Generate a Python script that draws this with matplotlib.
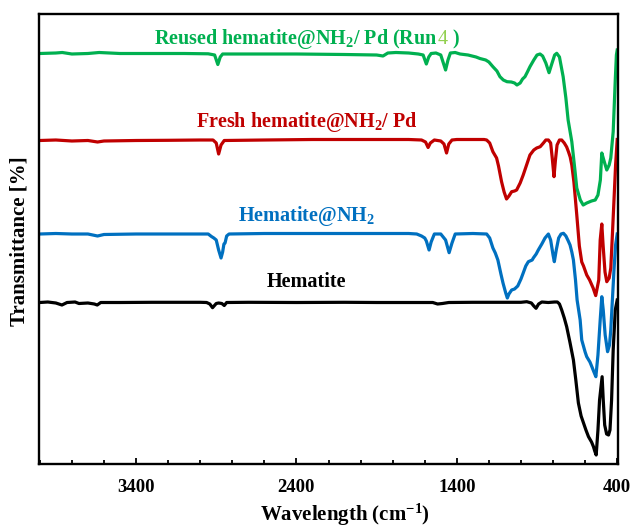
import numpy as np
import matplotlib
matplotlib.use("Agg")
import matplotlib.pyplot as plt
from matplotlib.ticker import MultipleLocator
from matplotlib.transforms import IdentityTransform

plt.rcParams["font.family"] = "Liberation Serif"
plt.rcParams["font.weight"] = "bold"
plt.rcParams["mathtext.fontset"] = "custom"
plt.rcParams["mathtext.rm"] = "Liberation Serif:bold"
plt.rcParams["mathtext.it"] = "Liberation Serif:bold"
plt.rcParams["mathtext.bf"] = "Liberation Serif:bold"

# spectra (wavenumber, transmittance in arbitrary offset units)
wn_green = [4000, 3900, 3860, 3800, 3700, 3630, 3500, 3300, 3100, 2950, 2910, 2890, 2875, 2860,
            2700, 2400, 2100, 1900, 1860, 1830, 1780, 1700, 1640, 1610, 1590, 1575, 1560, 1530,
            1500, 1470, 1455, 1440, 1410, 1380, 1330, 1280, 1256, 1220, 1200, 1175, 1150, 1131,
            1110, 1087, 1060, 1040, 1025, 1005, 990, 975, 960, 944, 920, 900, 881, 865, 845, 825,
            810, 790, 777, 760, 737, 720, 706, 683, 665, 652, 630, 612, 590, 560, 537, 520, 505,
            496, 480, 465, 450, 440, 425, 412, 405, 400]
t_green = [410.5, 411, 411.5, 410, 410.5, 411.5, 410.5, 410.5, 410.5, 410.2, 409, 399.5, 407, 410,
           410, 410, 409.5, 409, 408, 411, 411.5, 411, 410, 409, 400, 407, 410.5, 411,
           409, 394, 404, 411, 411.5, 410, 409, 407, 405.5, 404, 402, 397.3, 393, 387.3,
           384, 382.3, 382, 381, 379, 381, 385, 387.3, 392, 397.3, 404, 409, 410, 408, 401, 391.3,
           399, 409, 410.7, 407, 387.3, 366, 344, 322.3, 296, 276, 264, 259, 261, 263, 264, 269, 284,
           311, 302, 294, 299, 306, 332.3, 384, 409, 414]

wn_red = [4000, 3900, 3800, 3700, 3640, 3600, 3400, 3200, 3000, 2920, 2900, 2885, 2870, 2850,
          2600, 2300, 2000, 1700, 1620, 1595, 1579, 1565, 1540, 1500, 1480, 1464, 1450, 1430,
          1400, 1300, 1230, 1214, 1195, 1175, 1152, 1140, 1121, 1105, 1090, 1075, 1058, 1040,
          1027, 1005, 986, 965, 944, 920, 902, 880, 860, 845, 829, 815, 805, 794, 785, 775, 760,
          746, 730, 715, 704, 693, 683, 670, 652, 636, 621, 610, 590, 572, 550, 534, 515, 506,
          496, 488, 476, 465, 450, 440, 430, 420, 410, 400]
t_red = [323.5, 324, 323, 323.5, 322, 323, 323.5, 323.7, 324, 324, 321, 310, 319, 323.5,
         324, 324.5, 324.5, 324.5, 324, 322, 316.5, 321, 324, 323, 320, 311, 320, 324,
         324.5, 324.5, 324.5, 324, 321, 312.3, 306, 298, 282.3, 272, 265, 268, 272.3, 273,
         274, 281, 289, 299, 309, 314, 316, 317.3, 321, 324, 324, 321, 306, 287.3, 304, 319, 324,
         324, 321, 317, 312.3, 307, 299, 282, 249, 218, 202, 198, 189, 184, 176, 168.4, 184, 224,
         240, 219, 192, 182.3, 186, 196, 229, 264, 299, 324.5]

wn_blue = [4000, 3900, 3800, 3700, 3640, 3600, 3400, 3200, 3000, 2950, 2930, 2915, 2900, 2885,
           2870, 2860, 2852, 2845, 2835, 2820, 2600, 2300, 2000, 1700, 1650, 1620, 1600, 1590,
           1573, 1560, 1540, 1500, 1470, 1448, 1430, 1410, 1300, 1214, 1195, 1175, 1160, 1144,
           1125, 1112, 1095, 1085, 1075, 1058, 1040, 1020, 1000, 986, 970, 954, 930, 923, 905,
           892, 870, 850, 829, 815, 800, 792, 780, 765, 750, 735, 720, 705, 694, 683, 673, 660,
           650, 631, 621, 600, 590, 570, 558, 545, 533, 520, 506, 496, 487, 475, 460, 448, 440,
           430, 420, 410, 400]
t_blue = [230, 230.5, 230, 230, 228, 229.5, 230, 230, 230, 230, 227.5, 226, 224, 214,
          206, 212, 220, 221, 228, 230, 230.5, 230.5, 230.5, 230.5, 230, 228, 226, 223,
          214, 222, 230, 230, 224, 211.3, 221, 230, 230.5, 230, 226, 216, 211, 204,
          190, 181, 171, 166, 170, 174, 175, 178, 185, 191, 198, 202.3, 204, 206, 210,
          214, 220, 226, 230, 224, 209, 202.3, 214, 226, 230, 230.7, 228, 223, 219, 212, 204, 184,
          164, 144, 124, 112, 107.3, 102, 97.3, 92, 87.3, 109, 144, 167.3, 154, 129, 112.3, 119, 134,
          164, 194, 219, 230]

wn_black = [4000, 3950, 3900, 3862, 3830, 3780, 3756, 3700, 3660, 3642, 3620, 3500, 3300, 3000,
            2960, 2940, 2923, 2900, 2885, 2865, 2850, 2835, 2700, 2400, 2100, 1900, 1700, 1550,
            1520, 1490, 1450, 1300, 1100, 1000, 964, 935, 920, 906, 890, 870, 830, 790, 773, 760,
            746, 730, 715, 695, 673, 658, 642, 625, 610, 595, 579, 560, 548, 540, 531, 520, 510,
            494, 487, 478, 466, 454, 445, 435, 425, 412, 402, 400]
t_black = [161.5, 162, 161, 159, 161.5, 162, 160.5, 161, 160, 159, 161.5, 161.5, 161.7, 161.7,
           161.5, 160, 156.3, 160.5, 161, 160.5, 158.5, 161.5, 161.7, 161.5, 161.7, 161.5, 161.5, 161.5,
           160, 160.5, 161.5, 161.7, 161.7, 161.7, 162.3, 161, 158, 155.7, 160, 162, 161.5, 162, 162, 160,
           154, 146, 137.3, 122, 104, 84, 61, 48, 41, 34, 27.3, 22, 17.3, 13, 9, 34, 64,
           87.3, 64, 39, 30, 29, 34, 64, 114, 154, 162.3, 164]

c_green = "#00b050"
c_lightgreen = "#92d050"
c_red = "#c00000"
c_blue = "#0070c0"
c_black = "#000000"

fig = plt.figure(figsize=(6.35, 5.28), dpi=100)
ax = fig.add_axes([39/635, 64/528, 579/635, 450/528])

lw = 2.3
ax.plot(wn_black, t_black, color=c_black, lw=lw)
ax.plot(wn_blue, t_blue, color=c_blue, lw=lw)
ax.plot(wn_red, t_red, color=c_red, lw=lw)
ax.plot(wn_green, t_green, color=c_green, lw=lw)

ax.set_xlim(4005, 395)
ax.set_ylim(0, 450)

fs = 14.5
label_x = 2337

# green label: the "4" is drawn lighter and not bold
parts = [("Reused hematite@NH$_2$/ Pd (Run", c_green, "bold"),
         ("4", c_lightgreen, "normal"),
         (" )", c_green, "bold")]
pieces = [ax.text(0, 0, s, color=c, fontweight=w, fontsize=fs, va="baseline", ha="left",
                  transform=IdentityTransform()) for s, c, w in parts]
fig.canvas.draw()
r = fig.canvas.get_renderer()
widths = [p.get_window_extent(r).width for p in pieces]
cx, cy = ax.transData.transform((label_x, 419.7))
x = cx - sum(widths) / 2
for p, w in zip(pieces, widths):
    p.set_position((x, cy))
    x += w

ax.text(label_x, 337.3, "Fresh hematite@NH$_2$/ Pd", color=c_red, fontsize=fs,
        ha="center", va="baseline")
ax.text(label_x, 243.3, "Hematite@NH$_2$", color=c_blue, fontsize=fs,
        ha="center", va="baseline")
ax.text(label_x, 177.3, "Hematite", color=c_black, fontsize=fs,
        ha="center", va="baseline")

ax.set_xticks([3400, 2400, 1400, 400])
ax.xaxis.set_minor_locator(MultipleLocator(200))
ax.set_yticks([])
ax.tick_params(axis="x", which="major", direction="in", length=4, width=1.3,
               labelsize=13.5, pad=11)
ax.tick_params(axis="x", which="minor", direction="in", length=3, width=1.3)
for s in ax.spines.values():
    s.set_linewidth(1.7)

fig.text(20/635, 1 - 241/528, "Transmittance [%]", rotation=90, fontsize=15,
         ha="center", va="center")
fig.text(345/635, 1 - 521/528, "Wavelength (cm$^{-1}$)", fontsize=15,
         ha="center", va="baseline")

fig.savefig("out.png", dpi=100)
